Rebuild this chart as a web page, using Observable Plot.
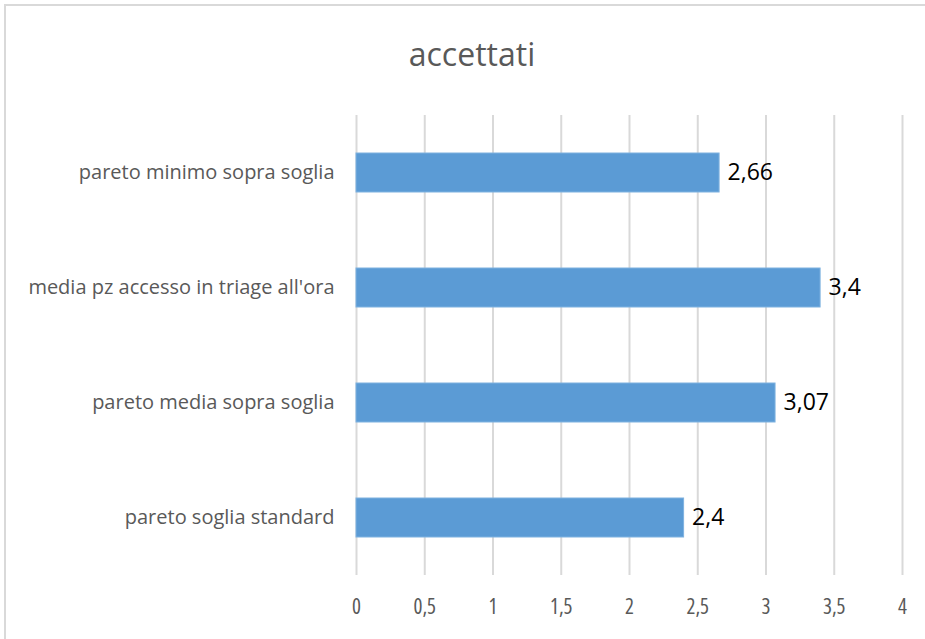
<!DOCTYPE html>
<html>
<head>
<meta charset="utf-8">
<script src="https://cdn.jsdelivr.net/npm/d3@7"></script>
<script src="https://cdn.jsdelivr.net/npm/@observablehq/plot@0.6"></script>
<style>
  html, body { margin: 0; padding: 0; background: #fff; }
  body { width: 925px; height: 639px; position: relative; overflow: hidden; font-family: "Open Sans", sans-serif; }
  #frame { position: absolute; left: 4px; top: 4px; width: 940px; height: 700px; border-left: 2px solid #d9d9d9; border-top: 2px solid #d9d9d9; box-sizing: border-box; }
  #title { position: absolute; left: 0; top: 0; width: 925px; height: 100px; }
  #title span { position: absolute; left: 472px; top: 32px; transform: translateX(-50%); font-size: 32px; color: #595959; font-family: "Open Sans", sans-serif; white-space: nowrap; }
  #chart { position: absolute; left: 0; top: 100px; }
  #chart svg g[aria-label="x-axis tick label"] text { font-stretch: condensed; }
</style>
</head>
<body>
<div id="frame"></div>
<div id="title"><span>accettati</span></div>
<div id="chart"></div>
<script>
const categories = ["pareto minimo sopra soglia", "media pz accesso in triage all'ora", "pareto media sopra soglia", "pareto soglia standard"];
const values = [2.66, 3.4, 3.07, 2.4];
const labels = ["2,66", "3,4", "3,07", "2,4"];
const xTicks = [0, 0.5, 1, 1.5, 2, 2.5, 3, 3.5, 4];

const data = categories.map((c, i) => ({cat: c, value: values[i], label: labels[i]}));

const plot = Plot.plot({
  width: 925,
  height: 539,
  marginTop: 15,
  marginBottom: 64,
  marginLeft: 356,
  marginRight: 23,
  style: {fontFamily: "'Open Sans', sans-serif", background: "transparent"},
  x: {domain: [0, 4], ticks: xTicks, label: null},
  y: {domain: categories, paddingInner: 0.66, paddingOuter: 0.33, label: null},
  marks: [
    Plot.gridX(xTicks, {stroke: "#d9d9d9", strokeOpacity: 1, strokeWidth: 2}),
    Plot.axisX({ticks: xTicks, tickSize: 0, tickPadding: 24, fontSize: 21, fill: "#595959", tickFormat: d => String(d).replace(".", ","), label: null}),
    Plot.axisY({tickSize: 0, tickPadding: 22, fontSize: 20, fill: "#595959", label: null}),
    Plot.barX(data, {x: "value", y: "cat", fill: "#5b9bd5", stroke: "#7fb2e0", strokeWidth: 1}),
    Plot.text(data, {x: "value", y: "cat", text: "label", textAnchor: "start", dx: 8, fontSize: 23, fill: "#000"})
  ]
});
document.getElementById("chart").appendChild(plot);
</script>
</body>
</html>
